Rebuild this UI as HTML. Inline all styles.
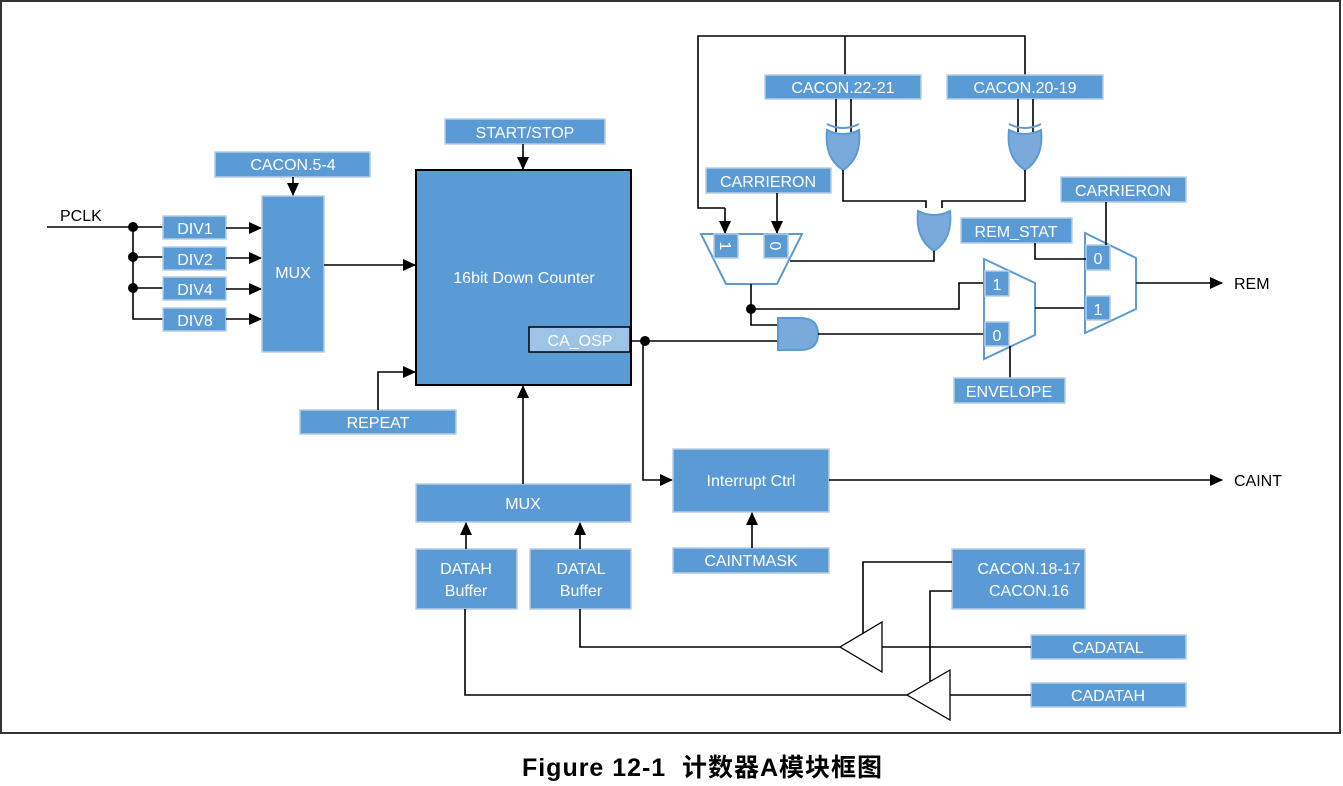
<!DOCTYPE html>
<html><head><meta charset="utf-8"><style>
html,body{margin:0;padding:0;background:#fff;width:1343px;height:786px;overflow:hidden}
svg{display:block}
.b{fill:#5b9bd5;stroke:#b7cde6;stroke-width:1.5}
.t{fill:#fff;font-family:"Liberation Sans",sans-serif;font-size:16px;text-anchor:middle}
.l{stroke:#000;stroke-width:1.6;fill:none}
.g{fill:#7aaadb;stroke:#5b9bd5;stroke-width:2}
.m{fill:none;stroke:#5b9bd5;stroke-width:2}
</style></head><body>
<svg width="1343" height="786" viewBox="0 0 1343 786" xmlns="http://www.w3.org/2000/svg">
<defs><marker id="a" markerWidth="13" markerHeight="12" refX="12" refY="6" orient="auto" markerUnits="userSpaceOnUse"><path d="M0,0 L13,6 L0,12 Z" fill="#000"/></marker></defs>
<rect x="1" y="1" width="1339" height="732" fill="none" stroke="#333" stroke-width="2"/>

<text x="60" y="221" font-family="Liberation Sans,sans-serif" font-size="16">PCLK</text>
<path class="l" d="M47,227 H163 M133,227 V319 H163 M133,257 H163 M133,288 H163"/>
<circle cx="133" cy="227" r="5"/><circle cx="133" cy="257" r="5"/><circle cx="133" cy="288" r="5"/>
<rect class="b" x="163" y="216" width="63" height="23"/><text class="t" x="195" y="234">DIV1</text>
<rect class="b" x="163" y="247" width="63" height="23"/><text class="t" x="195" y="265">DIV2</text>
<rect class="b" x="163" y="277" width="63" height="23"/><text class="t" x="195" y="295">DIV4</text>
<rect class="b" x="163" y="308" width="63" height="23"/><text class="t" x="195" y="326">DIV8</text>
<path class="l" marker-end="url(#a)" d="M226,228 H261"/>
<path class="l" marker-end="url(#a)" d="M226,258 H261"/>
<path class="l" marker-end="url(#a)" d="M226,289 H261"/>
<path class="l" marker-end="url(#a)" d="M226,319 H261"/>
<rect class="b" x="262" y="196" width="62" height="156"/><text class="t" x="293" y="278">MUX</text>
<rect class="b" x="215" y="152" width="155" height="25"/><text class="t" x="293" y="170">CACON.5-4</text>
<path class="l" marker-end="url(#a)" d="M293,177 V195"/>
<path class="l" marker-end="url(#a)" d="M324,265 H415"/>

<rect x="416" y="170" width="215" height="215" fill="#5b9bd5" stroke="#000" stroke-width="2"/>
<text class="t" x="524" y="283">16bit Down Counter</text>
<rect x="529" y="327" width="101" height="25" fill="#9dc3e6" stroke="#000" stroke-width="1.5"/>
<text class="t" x="580" y="346">CA_OSP</text>
<rect class="b" x="445" y="119" width="160" height="25"/><text class="t" x="525" y="138">START/STOP</text>
<path class="l" marker-end="url(#a)" d="M523,144 V169"/>
<rect class="b" x="300" y="410" width="156" height="24"/><text class="t" x="378" y="428">REPEAT</text>
<path class="l" marker-end="url(#a)" d="M378,410 V372 H415"/>

<rect class="b" x="416" y="484" width="215" height="38"/><text class="t" x="523" y="509">MUX</text>
<path class="l" marker-end="url(#a)" d="M523,484 V386"/>
<rect class="b" x="416" y="549" width="101" height="60"/><text class="t" x="466" y="574">DATAH</text><text class="t" x="466" y="596">Buffer</text>
<rect class="b" x="530" y="549" width="101" height="60"/><text class="t" x="581" y="574">DATAL</text><text class="t" x="581" y="596">Buffer</text>
<path class="l" marker-end="url(#a)" d="M466,549 V523"/>
<path class="l" marker-end="url(#a)" d="M580,549 V523"/>

<path class="l" d="M631,341 H778"/>
<circle cx="645" cy="341" r="5"/>
<path class="l" marker-end="url(#a)" d="M643,341 V480 H672"/>
<rect class="b" x="673" y="449" width="156" height="63"/><text class="t" x="751" y="486">Interrupt Ctrl</text>
<path class="l" marker-end="url(#a)" d="M829,480 H1222"/>
<text x="1234" y="486" font-family="Liberation Sans,sans-serif" font-size="16">CAINT</text>
<rect class="b" x="673" y="548" width="156" height="25"/><text class="t" x="751" y="566">CAINTMASK</text>
<path class="l" marker-end="url(#a)" d="M752,548 V513"/>

<rect class="b" x="952" y="549" width="133" height="60"/><text class="t" x="1029" y="574">CACON.18-17</text><text class="t" x="1029" y="596">CACON.16</text>
<rect class="b" x="1031" y="635" width="155" height="24"/><text class="t" x="1108" y="653">CADATAL</text>
<rect class="b" x="1031" y="683" width="155" height="24"/><text class="t" x="1108" y="701">CADATAH</text>
<path d="M882,622 L840,647 L882,672 Z" fill="#fff" stroke="#000" stroke-width="1.3"/>
<path d="M950,670 L907,695 L950,720 Z" fill="#fff" stroke="#000" stroke-width="1.3"/>
<path class="l" d="M1031,647 H882 M840,647 H580 V609"/>
<path class="l" d="M1031,695 H950 M907,695 H465 V609"/>
<path class="l" stroke-width="1.3" d="M952,562 H863 V634"/>
<path class="l" stroke-width="1.3" d="M952,591 H930 V681"/>

<path class="l" d="M845,75 V36 H1025 V75 M845,36 H698 V208 H725"/>
<path class="l" marker-end="url(#a)" d="M725,208 V233"/>
<rect class="b" x="765" y="75" width="156" height="24"/><text class="t" x="843" y="93">CACON.22-21</text>
<rect class="b" x="947" y="75" width="156" height="24"/><text class="t" x="1025" y="93">CACON.20-19</text>
<path class="l" d="M836,99 V132 M851,99 V132 M1018,99 V132 M1033,99 V132"/>
<path class="m" d="M827,124 Q843,132 859,124"/>
<path class="g" d="M827,130 Q843,138 859,130 Q862,158 843,170 Q824,158 827,130 Z"/>
<path class="m" d="M1009,124 Q1025,132 1041,124"/>
<path class="g" d="M1009,130 Q1025,138 1041,130 Q1044,158 1025,170 Q1006,158 1009,130 Z"/>
<path class="l" d="M843,170 V201 H926 V208 M1025,170 V201 H942 V208"/>
<path class="g" d="M918,211 Q934,219 950,211 Q953,239 934,251 Q915,239 918,211 Z"/>
<path class="l" d="M934,251 V261 H790"/>
<rect class="b" x="706" y="168" width="125" height="25"/><text class="t" x="768" y="187">CARRIERON</text>
<path class="l" marker-end="url(#a)" d="M777,193 V233"/>
<path class="m" d="M701,234 H802 L777,284 H726 Z" fill="#fff"/>
<rect class="b" x="714" y="234" width="24" height="24"/><text class="t" transform="translate(726,246) rotate(90)" y="6">1</text>
<rect class="b" x="764" y="234" width="24" height="24"/><text class="t" transform="translate(776,246) rotate(90)" y="6">0</text>
<path class="l" d="M751,284 V325 H778 M751,309 H959 V283 H985"/>
<circle cx="751" cy="309" r="5"/>
<path class="g" d="M778,318 H800 Q818,318 818,334 Q818,350 800,350 H778 Z"/>
<path class="l" d="M818,334 H985"/>

<path class="m" d="M984,259 L1035,283 V335 L984,359 Z" fill="#fff"/>
<rect class="b" x="985" y="271" width="24" height="25"/><text class="t" x="997" y="290">1</text>
<rect class="b" x="985" y="322" width="24" height="24"/><text class="t" x="997" y="341">0</text>
<path class="l" d="M1010,346 V378"/>
<rect class="b" x="954" y="378" width="111" height="25"/><text class="t" x="1009" y="397">ENVELOPE</text>
<path class="l" d="M1035,308 H1086"/>

<path class="m" d="M1085,233 L1136,258 V309 L1085,333 Z" fill="#fff"/>
<rect class="b" x="1086" y="245" width="24" height="25"/><text class="t" x="1098" y="264">0</text>
<rect class="b" x="1086" y="296" width="24" height="24"/><text class="t" x="1098" y="315">1</text>
<rect class="b" x="961" y="218" width="111" height="25"/><text class="t" x="1016" y="237">REM_STAT</text>
<path class="l" d="M1035,243 V259 H1086"/>
<rect class="b" x="1061" y="177" width="125" height="25"/><text class="t" x="1123" y="196">CARRIERON</text>
<path class="l" d="M1106,202 V245"/>
<path class="l" marker-end="url(#a)" d="M1136,283 H1222"/>
<text x="1234" y="289" font-family="Liberation Sans,sans-serif" font-size="16">REM</text>

<text x="702" y="776" text-anchor="middle" xml:space="preserve" font-family="Liberation Sans,'Noto Sans CJK SC',sans-serif" font-size="25" font-weight="bold" textLength="360">Figure 12-1  计数器A模块框图</text>
</svg>
</body></html>
